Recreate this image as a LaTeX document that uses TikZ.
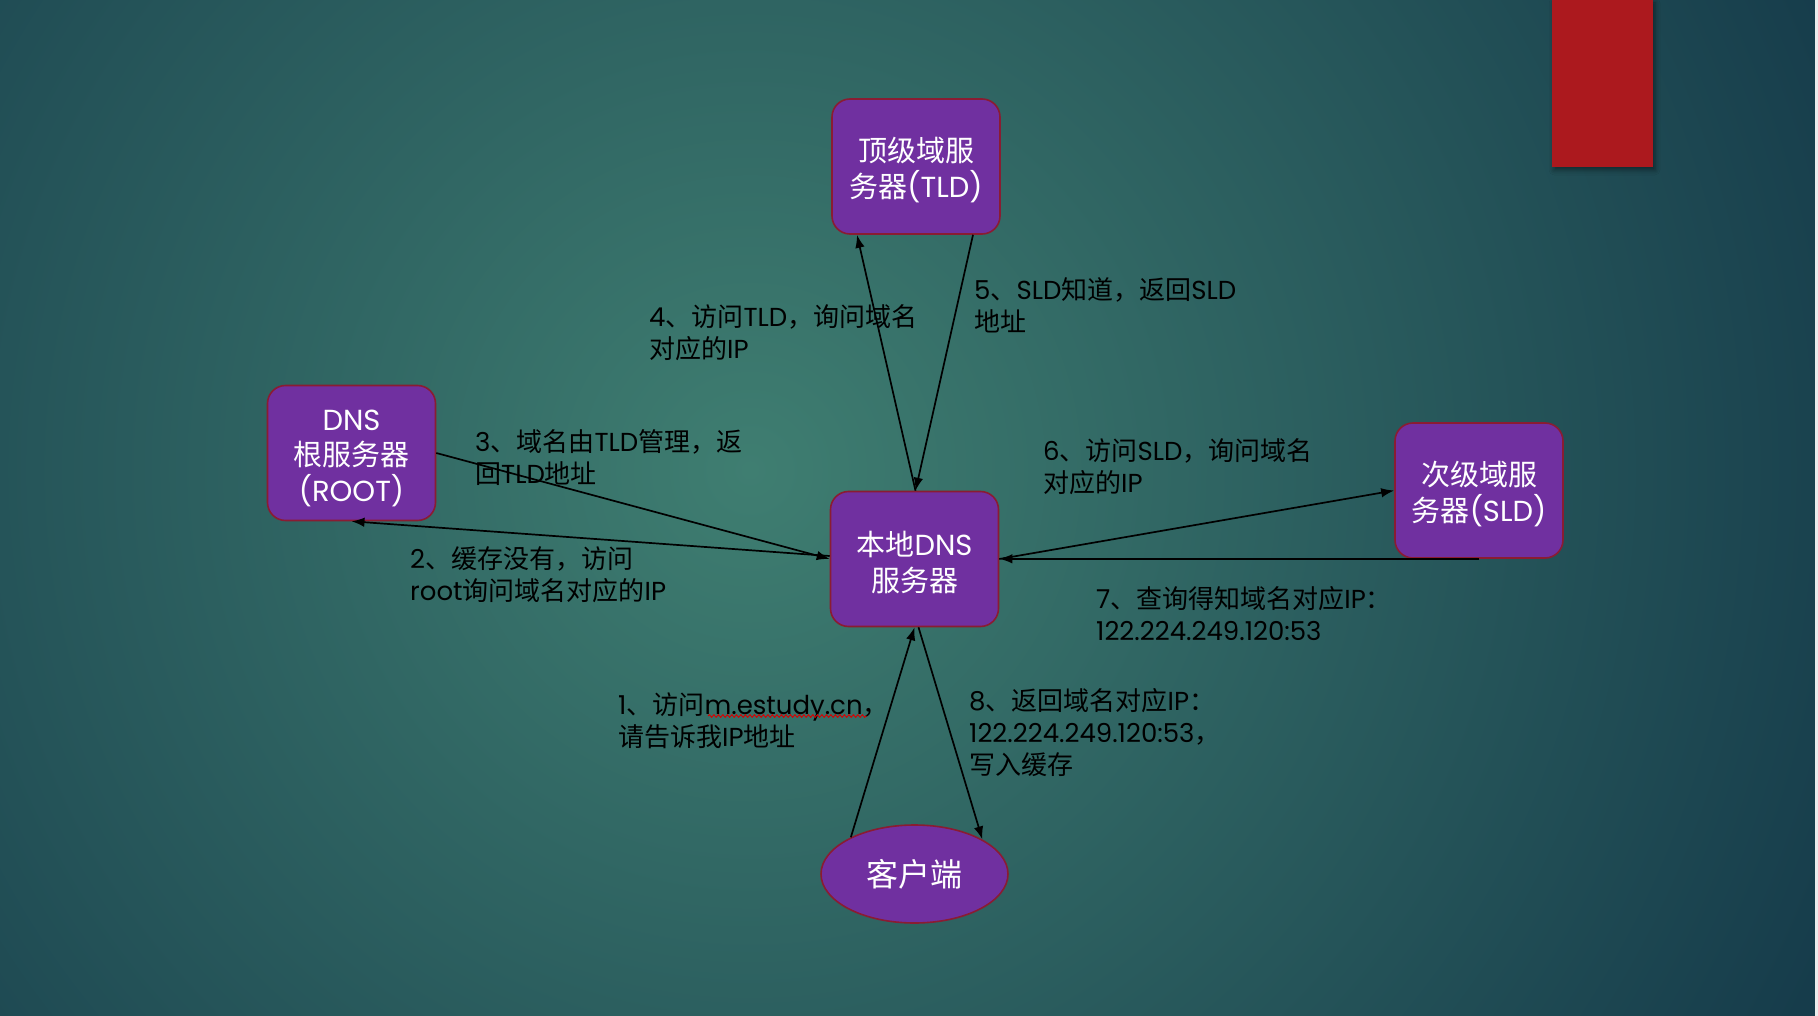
\documentclass[tikz,border=0pt]{standalone}
\usepackage{fontspec}
\setmainfont{Noto Sans CJK SC}
\newfontfamily\lat{Poppins}
\usetikzlibrary{arrows.meta,shapes.geometric,decorations.pathmorphing,shadows.blur}
\definecolor{bgdark}{HTML}{163C4B}
\definecolor{bgmid}{HTML}{3F7E71}
\definecolor{boxfill}{HTML}{7030A0}
\definecolor{boxborder}{HTML}{8A1C32}
\definecolor{redbar}{HTML}{AC191E}
\newcommand{\topstrut}{\rule{0pt}{31pt}}
\tikzset{
  srvbox/.style={draw=boxborder, line width=1.6pt, fill=boxfill, rounded corners=18pt,
    text=white, align=center, minimum width=168pt, minimum height=135pt, inner sep=0pt,
    font=\fontsize{29}{35.5}\selectfont},
  clientbox/.style={ellipse, draw=boxborder, line width=1.6pt, fill=boxfill, text=white,
    minimum width=187pt, minimum height=98pt, inner sep=0pt, font=\fontsize{32}{38}\selectfont},
  lbl/.style={anchor=west, align=left, inner sep=0pt, text=black,
    font=\fontsize{26}{32}\selectfont},
  arr/.style={-{Latex[length=13pt,width=9.5pt]}, line width=1.7pt, black},
  wavy/.style={draw=red!85!black, line width=0.9pt, decorate,
    decoration={snake, amplitude=1.3pt, segment length=4.5pt}}
}
\begin{document}
\begin{tikzpicture}[x=1pt,y=-1pt]
% background
\useasboundingbox (0,0) rectangle (1818,1016);
\fill[bgdark] (0,0) rectangle (1818,1016);
\begin{scope}
\clip (0,0) rectangle (1818,1016);
\shade[inner color=bgmid, outer color=bgdark] (750,470) circle (1180);
\end{scope}
\fill[white!85!gray] (1815,0) rectangle (1818,1016);
% red bar
\fill[redbar, blur shadow={shadow xshift=2pt, shadow yshift=-3pt, shadow blur radius=5pt, shadow opacity=45}] (1552,0) rectangle (1653,167);

% nodes
\node[srvbox] (tld) at (916,166.5) {\topstrut 顶级域服\\务器{\lat (TLD)}};
\node[srvbox] (root) at (351.5,453) {\topstrut{\lat DNS}\\根服务器\\{\lat (ROOT)}};
\node[srvbox] (local) at (914.5,559) {\topstrut 本地{\lat DNS}\\服务器};
\node[srvbox] (sld) at (1479,490.5) {\topstrut 次级域服\\务器{\lat (SLD)}};
\node[clientbox] (client) at (914.5,874) {客户端};

% connectors
\draw[arr] (client.150) -- (local.south);
\draw[arr] ([xshift=4pt]local.south) -- (client.27);
\draw[arr] ([yshift=3pt]local.west) -- (root.south);
\draw[arr] (root.east) -- (local.west);
\draw[arr] ([xshift=1pt]local.north) -- ([xshift=-59pt]tld.south);
\draw[arr] ([xshift=57pt]tld.south) -- ([xshift=1pt]local.north);
\draw[arr] (local.east) -- (sld.west);
\draw[arr] (sld.south) -- (sld.south -| local.east);

% labels
\node[lbl] (l4) at (649,332.5) {{\lat 4}、访问{\lat TLD}，询问域名\\对应的{\lat IP}};
\node[lbl] (l5) at (974,305) {{\lat 5}、{\lat SLD}知道，返回{\lat SLD}\\地址};
\node[lbl] (l3) at (475,457.5) {{\lat 3}、域名由{\lat TLD}管理，返\\回{\lat TLD}地址};
\node[lbl] (l2) at (410,575) {{\lat 2}、缓存没有，访问\\{\lat root}询问域名对应的{\lat IP}};
\node[lbl] (l6) at (1043,466.5) {{\lat 6}、访问{\lat SLD}，询问域名\\对应的{\lat IP}};
\node[lbl] (l7) at (1096,614) {{\lat 7}、查询得知域名对应{\lat IP}：\\{\lat 122.224.249.120:53}};
\node[lbl] (l1) at (618,721) {{\lat 1}、访问{\lat m.estudy.cn}，\\请告诉我{\lat IP}地址};
\node[lbl] (l8) at (969,732.5) {{\lat 8}、返回域名对应{\lat IP}：\\{\lat 122.224.249.120:53}，\\写入缓存};

% spell-check underline
\coordinate (ulA) at (708,716);
\coordinate (ulB) at (867,716);
\draw[wavy] (ulA) -- (ulB);
\end{tikzpicture}
\end{document}
